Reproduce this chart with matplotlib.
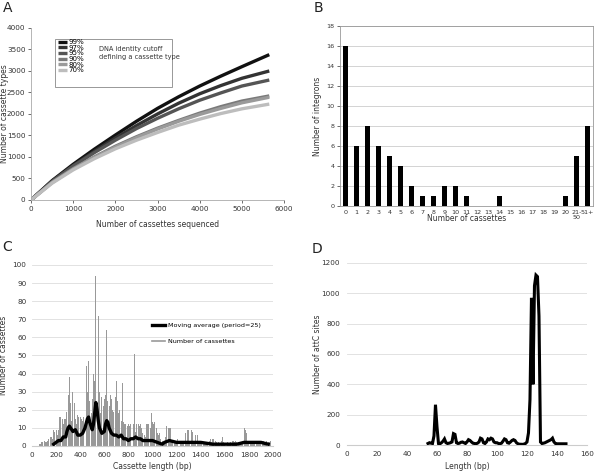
import numpy as np
import matplotlib
matplotlib.use("Agg")
import matplotlib.pyplot as plt
from matplotlib.lines import Line2D
from matplotlib.patches import Rectangle

# ---- panel A: rarefaction curves ----
seq_x = [0, 500, 1000, 1500, 2000, 2500, 3000, 3500, 4000, 4500, 5000, 5650]
curves = {
    "99%": [0, 450, 830, 1180, 1510, 1830, 2130, 2400, 2650, 2880, 3100, 3380],
    "97%": [0, 440, 800, 1130, 1440, 1730, 2000, 2250, 2470, 2660, 2830, 3000],
    "95%": [0, 430, 790, 1100, 1390, 1660, 1900, 2120, 2320, 2490, 2650, 2790],
    "90%": [0, 410, 730, 1000, 1250, 1470, 1670, 1850, 2020, 2170, 2300, 2420],
    "80%": [0, 405, 720, 990, 1230, 1450, 1650, 1830, 1990, 2130, 2260, 2390],
    "70%": [0, 390, 700, 960, 1190, 1390, 1570, 1740, 1880, 2010, 2120, 2230],
}
curve_colors = ["#111111", "#333333", "#555555", "#7a7a7a", "#9a9a9a", "#bdbdbd"]

# ---- panel B: integron histogram ----
b_labels = [str(i) for i in range(21)] + ["21-\n50", "51+"]
b_counts = [16, 6, 8, 6, 5, 4, 2, 1, 1, 2, 2, 1, 0, 0, 1, 0, 0, 0, 0, 0, 1, 5, 8]

# ---- panel C: cassette length distribution (10 bp bins) ----
c_start = 60
c_counts = [1, 1, 2, 2, 3, 2, 2, 3, 4, 5, 5, 4, 9, 8, 9, 6, 9, 16, 16, 15,
            12, 15, 15, 19, 28, 38, 24, 14, 30, 24, 15, 12, 17, 16, 16, 15, 14, 16, 26, 44,
            30, 47, 25, 18, 26, 40, 36, 94, 22, 72, 30, 18, 27, 22, 26, 28, 64, 25, 22, 28,
            26, 20, 19, 27, 36, 25, 18, 20, 14, 35, 13, 12, 12, 11, 12, 11, 12, 7, 12, 51,
            8, 12, 12, 11, 12, 10, 7, 6, 5, 12, 12, 12, 10, 18, 13, 12, 13, 10, 7, 6,
            7, 4, 3, 2, 3, 5, 11, 10, 10, 10, 3, 2, 3, 2, 3, 4, 10, 3, 2, 3,
            2, 7, 2, 9, 9, 3, 9, 8, 3, 2, 6, 6, 2, 1, 2, 1, 1, 2, 1, 2,
            1, 3, 4, 2, 4, 4, 3, 2, 1, 2, 1, 3, 5, 2, 1, 1, 2, 1, 1, 2,
            3, 3, 2, 3, 2, 1, 1, 2, 1, 2, 10, 9, 7, 2, 2, 2, 1, 2, 2, 1,
            2, 2, 2, 2, 2, 2, 3, 2, 2, 3, 2, 2, 3]
c_len = [c_start + 10 * i for i in range(len(c_counts))]

ma_x = [180, 200, 220, 240, 260, 280, 290, 300, 310, 320, 340, 360, 380, 400, 420, 440,
        460, 470, 480, 500, 510, 520, 530, 540, 550, 560, 580, 600, 610, 620, 630, 640,
        660, 680, 700, 720, 740, 760, 780, 800, 820, 840, 860, 880, 900, 920, 960, 1000,
        1040, 1080, 1100, 1140, 1200, 1300, 1400, 1500, 1600, 1700, 1760, 1800, 1900, 1960]
ma_y = [1, 2, 3, 3, 5, 5, 8, 10, 11, 10, 8, 9, 6, 6, 7, 10,
        15, 16, 13, 9, 12, 18, 24, 20, 14, 10, 7, 8, 12, 14, 13, 10,
        7, 6, 6, 5, 6, 4, 4, 3, 4, 4, 5, 4, 4, 3, 3, 3,
        2, 1, 2, 3, 2, 2, 2, 1, 1, 1, 2, 2, 2, 1]

# ---- panel D: attC site lengths ----
d_len = list(range(54, 147))
d_counts = [10, 15, 12, 10, 60, 265, 120, 10, 8, 15, 25, 40, 15, 10, 12, 15, 20, 75, 70, 15,
            10, 12, 18, 20, 15, 10, 20, 35, 30, 20, 12, 10, 8, 12, 20, 45, 40, 15, 10, 20,
            40, 35, 45, 40, 20, 15, 15, 10, 8, 12, 25, 40, 35, 15, 12, 20, 30, 35, 30, 15,
            8, 5, 5, 4, 6, 10, 20, 80, 300, 970, 400, 1050, 1120, 1110, 850, 20, 10, 12, 15, 20,
            25, 30, 35, 45, 20, 10, 8, 8, 8, 8, 8, 8, 8]

plt.rcParams["font.family"] = "DejaVu Sans"
tick_col = "#333333"
fig = plt.figure(figsize=(6.0, 4.72), dpi=100)


def style_ticks(ax, size):
    ax.tick_params(labelsize=size, colors=tick_col, length=2, width=0.5, pad=2)


# A
axA = fig.add_axes([0.0517, 0.5763, 0.4217, 0.3644])
for (lab, ys), col in zip(curves.items(), curve_colors):
    axA.plot(seq_x, ys, color=col, lw=2.4, label=lab, solid_capstyle="butt")
axA.set_xlim(0, 6000)
axA.set_ylim(0, 4000)
axA.set_xticks(range(0, 6001, 1000))
axA.set_yticks(range(0, 4001, 500))
for s in ["top", "right"]:
    axA.spines[s].set_visible(False)
for s in ["left", "bottom"]:
    axA.spines[s].set_color("#aaaaaa")
    axA.spines[s].set_linewidth(0.6)
style_ticks(axA, 5.2)
axA.set_xlabel("Number of cassettes sequenced", fontsize=5.5, color=tick_col)
axA.set_ylabel("Number of cassette types", fontsize=5.5, color=tick_col)
axA.xaxis.set_label_coords(0.5, -0.116)
axA.yaxis.set_label_coords(-0.089, 0.5)
axA.add_patch(Rectangle((0.095, 0.657), 0.462, 0.279, transform=axA.transAxes,
                        fill=False, ec="#888888", lw=0.6))
axA.legend(loc="upper left", bbox_to_anchor=(0.105, 0.935), frameon=False, fontsize=5.1,
           handlelength=1.3, handletextpad=0.2, labelspacing=-0.05, borderpad=0,
           borderaxespad=0)
axA.text(0.269, 0.855, "DNA identity cutoff\ndefining a cassette type",
         transform=axA.transAxes, fontsize=4.8, color=tick_col, va="center",
         linespacing=1.5)

# B
axB = fig.add_axes([0.5667, 0.5636, 0.4217, 0.3814])
bx = np.arange(len(b_counts))
axB.bar(bx, b_counts, width=0.45, color="black", zorder=3)
axB.set_xlim(-0.5, len(b_counts) - 0.5)
axB.set_ylim(0, 18)
axB.set_yticks(range(0, 19, 2))
axB.set_xticks(bx)
axB.set_xticklabels(b_labels, linespacing=0.9)
axB.yaxis.grid(True, color="#cccccc", lw=0.6, zorder=0)
for s in axB.spines.values():
    s.set_color("#999999")
    s.set_linewidth(0.6)
style_ticks(axB, 4.6)
axB.tick_params(axis="x", length=0, pad=3)
axB.set_xlabel("Number of cassettes", fontsize=5.5, color=tick_col)
axB.set_ylabel("Number of integrons", fontsize=5.5, color=tick_col)
axB.xaxis.set_label_coords(0.5, -0.045)
axB.yaxis.set_label_coords(-0.073, 0.5)

# C
axC = fig.add_axes([0.0533, 0.0551, 0.4017, 0.3835])
axC.bar(c_len, c_counts, width=8, color="#999999", zorder=2)
axC.plot(ma_x, ma_y, color="black", lw=2.4, zorder=3)
axC.set_xlim(0, 2000)
axC.set_ylim(0, 100)
axC.set_xticks(range(0, 2001, 200))
axC.set_yticks(range(0, 101, 10))
axC.yaxis.grid(True, color="#dddddd", lw=0.6, zorder=0)
for s in ["top", "right", "left"]:
    axC.spines[s].set_visible(False)
axC.spines["bottom"].set_color("#cccccc")
style_ticks(axC, 5.2)
axC.tick_params(axis="y", length=0, pad=4)
axC.tick_params(axis="x", length=0, pad=4)
axC.set_xlabel("Cassette length (bp)", fontsize=5.5, color=tick_col)
axC.set_ylabel("Number of cassettes", fontsize=5.5, color=tick_col)
axC.xaxis.set_label_coords(0.5, -0.088)
axC.yaxis.set_label_coords(-0.0975, 0.5)
handles = [Line2D([], [], color="black", lw=2.4), Line2D([], [], color="#999999", lw=1.2)]
axC.legend(handles, ["Moving average (period=25)", "Number of cassettes"],
           loc="upper left", bbox_to_anchor=(0.5, 0.68), frameon=False, fontsize=4.6,
           handlelength=1.9, handletextpad=0.5, labelspacing=1.6, borderpad=0,
           borderaxespad=0)

# D
axD = fig.add_axes([0.5783, 0.0572, 0.4, 0.3856])
axD.plot(d_len, d_counts, color="black", lw=2.2, zorder=3, solid_joinstyle="miter")
axD.set_xlim(0, 160)
axD.set_ylim(0, 1200)
axD.set_xticks(range(0, 161, 20))
axD.set_yticks(range(0, 1201, 200))
axD.yaxis.grid(True, color="#dddddd", lw=0.6, zorder=0)
for s in ["top", "right", "left"]:
    axD.spines[s].set_visible(False)
axD.spines["bottom"].set_color("#cccccc")
style_ticks(axD, 5.2)
axD.tick_params(axis="y", length=0, pad=5)
axD.tick_params(axis="x", length=0, pad=4)
axD.set_xlabel("Length (bp)", fontsize=5.5, color=tick_col)
axD.set_ylabel("Number of attC sites", fontsize=5.5, color=tick_col)
axD.xaxis.set_label_coords(0.5, -0.093)
axD.yaxis.set_label_coords(-0.106, 0.5)

# panel letters
for lab, x, y in [("A", 0.005, 0.9746), ("B", 0.522, 0.9746), ("C", 0.003, 0.468), ("D", 0.52, 0.464)]:
    fig.text(x, y, lab, fontsize=10, color="#222222", va="baseline", ha="left")

fig.savefig("out.png", dpi=100)
